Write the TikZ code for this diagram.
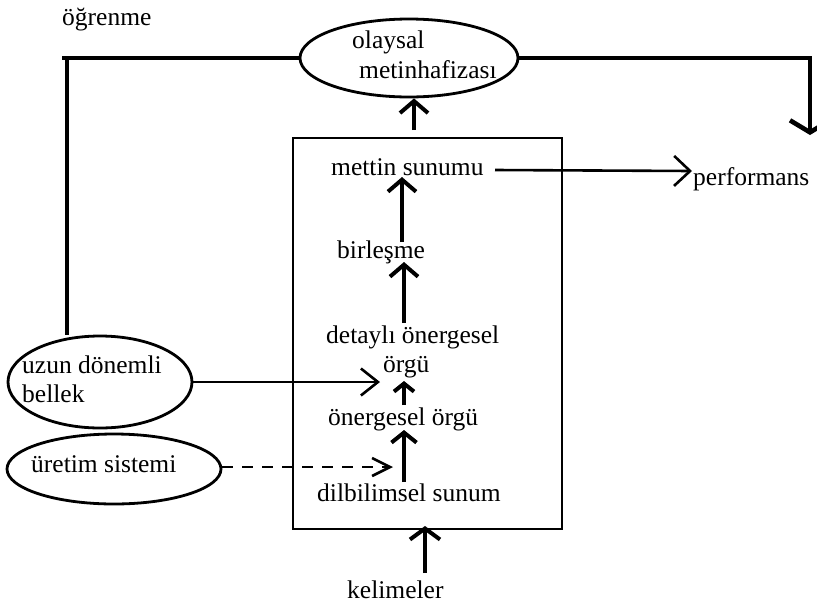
\documentclass[tikz,border=0pt]{standalone}
\usepackage{fontspec}
\setmainfont{Liberation Serif}
\usetikzlibrary{shapes.geometric,arrows.meta}
\tikzset{
  txt/.style={inner sep=0pt, anchor=base west, font=\fontsize{25.5}{29}\selectfont},
  oval/.style={draw, ellipse, line width=2.8pt, inner sep=0pt},
  heavy/.style={line width=4.6pt},
  barb/.style={-{Straight Barb[length=12pt,width=28pt]}},
  uparrow/.style={line width=4pt, barb},
  thinarrow/.style={line width=2.6pt},
}
\begin{document}
\begin{tikzpicture}[x=1pt,y=-1pt]
\useasboundingbox (0,0) rectangle (817,606);
% ellipses
\node[oval, minimum width=218pt, minimum height=78pt] (ola) at (409,58) {};
\node[oval, minimum width=184pt, minimum height=92pt] (udb) at (100,382) {};
\node[oval, minimum width=214pt, minimum height=70pt] (ure) at (114,469) {};
% box
\node[draw, line width=1.6pt, minimum width=269pt, minimum height=391pt, inner sep=0pt] (box) at (427.5,333.5) {};
% texts
\node[txt] (ogr) at (62,25) {öğrenme};
\node[txt] (ola1) at (352,48) {olaysal};
\node[txt] (ola2) at (359,78) {metinhafizası};
\node[txt] (udb1) at (22,373) {uzun dönemli};
\node[txt] (udb2) at (22,402) {bellek};
\node[txt] (ure1) at (31,472) {üretim sistemi};
\node[txt] (met) at (331,175) {mettin sunumu};
\node[txt] (bir) at (337,258) {birleşme};
\node[txt] (det1) at (326,343) {detaylı önergesel};
\node[txt] (det2) at (383,372) {örgü};
\node[txt] (one) at (328,425) {önergesel örgü};
\node[txt] (dil) at (317,501) {dilbilimsel sunum};
\node[txt] (kel) at (347,598) {kelimeler};
\node[txt] (perf) at (693,185) {performans};
% coordinates
\coordinate (tl) at (62,58);
\coordinate (tv) at (67,58);
\coordinate (tr) at (810,135);
\coordinate (b1) at (414,130);
\coordinate (m1) at (495,170);
\coordinate (m2) at (692,171);
\coordinate (a1) at (402,242);
\coordinate (a2) at (402,177);
\coordinate (c1) at (404,323);
\coordinate (c2) at (404,262);
\coordinate (d1) at (404,405);
\coordinate (d2) at (404,381);
\coordinate (e1) at (404,482);
\coordinate (e2) at (404,430);
\coordinate (k1) at (425,573);
\coordinate (k2) at (425,526);
\coordinate (u2) at (380,382);
\coordinate (r2) at (393,467);
% connectors
\draw[heavy] (tl) -- (tl -| ola.west);
\draw[heavy] (tv) -- (tv |- udb.north);
\draw[heavy, -{Straight Barb[length=12pt,width=40pt]}] (ola.east) -| (tr);
\draw[uparrow] (b1) -- (b1 |- ola.south);
\draw[thinarrow, -{Straight Barb[length=16pt,width=30pt]}] (m1) -- (m2);
\draw[uparrow] (a1) -- (a2);
\draw[uparrow] (c1) -- (c2);
\draw[line width=4pt, -{Straight Barb[length=8pt,width=20pt]}] (d1) -- (d2);
\draw[line width=4pt, -{Straight Barb[length=10pt,width=25pt]}] (e1) -- (e2);
\draw[uparrow, -{Straight Barb[length=11pt,width=30pt]}] (k1) -- (k2);
\draw[thinarrow, -{Straight Barb[length=17pt,width=27pt]}] (udb.east) -- (u2);
\draw[thinarrow, dash pattern=on 11pt off 9pt, -{Straight Barb[length=18pt,width=18pt]}] (r2 -| ure.east) -- (r2);
\end{tikzpicture}
\end{document}
